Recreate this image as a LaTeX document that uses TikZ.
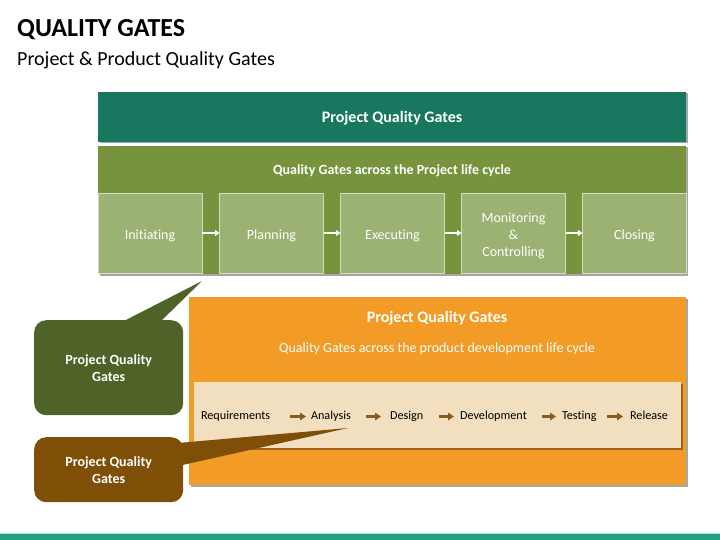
\documentclass[tikz,border=0pt]{standalone}
\usepackage{fontspec}
\setmainfont[Ligatures=NoCommon]{Carlito}
\usetikzlibrary{shadows,arrows.meta}
\definecolor{tealbar}{HTML}{17785F}
\definecolor{grnpanel}{HTML}{77933C}
\definecolor{grnbox}{HTML}{9BB272}
\definecolor{grncall}{HTML}{4F6228}
\definecolor{brncall}{HTML}{7F4F08}
\definecolor{orgpanel}{HTML}{F29B26}
\definecolor{beigebox}{HTML}{F2DFC0}
\definecolor{arrbrn}{HTML}{8A5A1E}
\definecolor{footbar}{HTML}{22A085}
\begin{document}
\begin{tikzpicture}[x=1pt,y=-1pt,
  panel/.style={anchor=north west, inner sep=0, outer sep=0,
    drop shadow={shadow xshift=1.5pt, shadow yshift=-1.5pt, opacity=0.35, fill=black}},
  phasebox/.style={anchor=north west, inner sep=0, outer sep=0, fill=grnbox,
    draw=white!55!grnbox, line width=0.8, minimum width=104, minimum height=80},
  phasetext/.style={inner sep=0, text=white, align=center, font=\fontsize{14}{17}\selectfont},
  whitearrow/.style={draw=white, line width=1.6, -{Triangle[length=4.5,width=6]}},
  heading/.style={text=white, font=\bfseries\fontsize{16}{18}\selectfont},
  stepword/.style={anchor=west, inner sep=0, outer sep=0, text height=8.5, text depth=2.7,
    font=\fontsize{12.2}{14}\selectfont},
  brnarrow/.style={draw=arrbrn, line width=2.4, -{Triangle[length=6,width=7.5]}},
  callout/.style={anchor=north west, rounded corners=12, inner sep=0, minimum width=149,
    text=white, align=center, font=\bfseries\fontsize{14}{17}\selectfont}
]
\useasboundingbox (0,0) rectangle (720,540);
% titles
\node[anchor=base west, inner sep=0, font=\bfseries\fontsize{26}{29}\selectfont] (title) at (17,37) {QUALITY GATES};
\node[anchor=base west, inner sep=0, font=\fontsize{20}{23}\selectfont] (subtitle) at (17,66) {Project \& Product Quality Gates};
% top bar
\node[panel, fill=tealbar, minimum width=588, minimum height=50] (topbar) at (98,92) {};
\node[heading] (toptext) at (392,118) {Project Quality Gates};
% green panel
\node[panel, fill=grnpanel, minimum width=588, minimum height=128] (gpanel) at (98,146) {};
\node[text=white, font=\bfseries\fontsize{14}{16}\selectfont] (gtext) at (392,170.5) {Quality Gates across the Project life cycle};
\node[phasebox] (p1) at (98,193) {};
\node[phasebox] (p2) at (219.5,193) {};
\node[phasebox] (p3) at (340.5,193) {};
\node[phasebox] (p4) at (461.5,193) {};
\node[phasebox] (p5) at (582.5,193) {};
\node[phasetext] (t1) at ([yshift=-2.5]p1.center) {Initiating};
\node[phasetext] (t2) at ([yshift=-2.5]p2.center) {Planning};
\node[phasetext] (t3) at ([yshift=-2.5]p3.center) {Executing};
\node[phasetext] (t4) at ([yshift=-2.5]p4.center) {Monitoring\\\&\\Controlling};
\node[phasetext] (t5) at ([yshift=-2.5]p5.center) {Closing};
\draw[whitearrow] (p1) -- (p2);
\draw[whitearrow] (p2) -- (p3);
\draw[whitearrow] (p3) -- (p4);
\draw[whitearrow] (p4) -- (p5);
% orange panel
\node[panel, fill=orgpanel, minimum width=497, minimum height=188] (opanel) at (189,297) {};
\node[heading] (otext) at (437,318.5) {Project Quality Gates};
\node[text=white, font=\fontsize{14}{16}\selectfont] (osub) at (437,348.5) {Quality Gates across the product development life cycle};
\node[panel, fill=beigebox, minimum width=487, minimum height=66] (beige) at (194,382) {};
\node[stepword] (s1) at (201,416.5) {Requirements};
\node[stepword] (s2) at (311,416.5) {Analysis};
\node[stepword] (s3) at (390,416.5) {Design};
\node[stepword] (s4) at (460,416.5) {Development};
\node[stepword] (s5) at (562,416.5) {Testing};
\node[stepword] (s6) at (630,416.5) {Release};
\draw[brnarrow, shorten <=20, shorten >=5] (s1) -- (s2);
\draw[brnarrow, shorten <=15, shorten >=9] (s2) -- (s3);
\draw[brnarrow, shorten <=16, shorten >=6] (s3) -- (s4);
\draw[brnarrow, shorten <=15, shorten >=6] (s4) -- (s5);
\draw[brnarrow, shorten <=10, shorten >=7] (s5) -- (s6);
% green callout
\coordinate (gtip) at (202,281);
\node[callout, fill=grncall, minimum height=95] (gcall) at (34,320) {Project Quality\\Gates};
\fill[grncall] (122,322) -- (gtip) -- (160,322) -- cycle;
% brown callout
\coordinate (btip) at (348,428);
\node[callout, fill=brncall, minimum height=65] (bcall) at (34,437) {Project Quality\\Gates};
\fill[brncall] (178,443) -- (btip) -- (178,466) -- cycle;
% footer
\fill[footbar!35] (0,532.5) rectangle (720,534);
\fill[footbar] (0,534) rectangle (720,540);
\end{tikzpicture}
\end{document}
